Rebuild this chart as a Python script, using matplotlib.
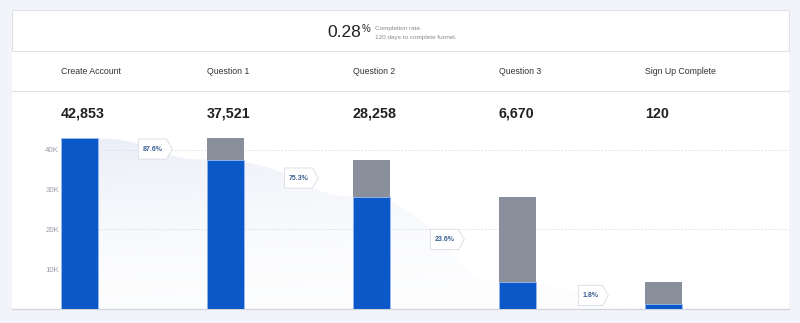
import numpy as np
import matplotlib
matplotlib.use('Agg')
import matplotlib.pyplot as plt
from matplotlib.path import Path
from matplotlib.patches import PathPatch, Rectangle
import matplotlib.transforms as mtransforms

plt.rcParams['font.family'] = ['Liberation Sans', 'DejaVu Sans']

# ---- data ----
steps = ['Create Account', 'Question 1', 'Question 2', 'Question 3', 'Sign Up Complete']
counts = np.array([42853, 37521, 28258, 6670, 120])
conv_pct = [87.6, 75.3, 23.6, 1.8]
completion_rate = 0.28
days_to_complete = 120
yticks = [10000, 20000, 30000, 40000]
grid_levels = [20000, 40000]

# colours
BG = '#f3f4fa'
BLUE = '#0b58c9'
GREY = '#8a8f9c'
LINE = '#dfe2e9'

W, H = 800, 323
fig = plt.figure(figsize=(W / 100, H / 100), dpi=100)
fig.patch.set_facecolor(BG)

# background axes in pixel coordinates for the panels
bg = fig.add_axes([0, 0, 1, 1])
bg.set_xlim(0, W)
bg.set_ylim(H, 0)
bg.axis('off')

# top summary box
bg.add_patch(Rectangle((12, 10), 777, 41, facecolor='white', edgecolor=LINE, lw=0.8))
# main panel
bg.add_patch(Rectangle((12, 51.5), 777, 257.5, facecolor='white', edgecolor='none'))
bg.plot([12, 789], [90.5, 90.5], color=LINE, lw=0.8)

bg.text(361, 32.5, f'{completion_rate:.2f}', fontsize=12.5, ha='right', va='center', color='#222222')
bg.text(362, 28.5, '%', fontsize=7, ha='left', va='center', color='#222222')
bg.text(375, 28.3, 'Completion rate.', fontsize=4.6, ha='left', va='center', color='#8a8a8a')
bg.text(375, 37.7, f'{days_to_complete} days to complete funnel.', fontsize=4.6,
        ha='left', va='center', color='#8a8a8a')

# ---- chart axes ----
zero_px, top_px = 309, 91
px_per_k = 3.98
ax = fig.add_axes([12 / W, (H - zero_px) / H, 777 / W, (zero_px - top_px) / H])
ax.set_facecolor('none')
x = np.arange(len(steps))
bw = 37 / 146
ax.set_xlim((12 - 79.5) / 146, (789 - 79.5) / 146)
ax.set_ylim(0, (zero_px - top_px) / px_per_k * 1000)
for s in ['top', 'right', 'left']:
    ax.spines[s].set_visible(False)
ax.spines['bottom'].set_color('#d3d6de')
ax.spines['bottom'].set_linewidth(1.0)
ax.set_xticks([])
ax.set_yticks(yticks)
ax.set_yticklabels([f'{v // 1000}K' for v in yticks])
ax.tick_params(axis='y', length=0, pad=-34, labelsize=5.7, labelcolor='#9a9ca6')
for lbl in ax.get_yticklabels():
    lbl.set_horizontalalignment('right')

ax.hlines(grid_levels, x[0] - bw / 2, ax.get_xlim()[1], colors='#d9dce3',
          linestyles=(0, (2, 2)), lw=0.6, zorder=1)

# smooth drop-off shape between bars, filled with a soft gradient
verts = [(x[0] + bw / 2, 0), (x[0] + bw / 2, counts[0])]
codes = [Path.MOVETO, Path.LINETO]
for i in range(len(counts) - 1):
    x0, x1 = x[i] + bw / 2, x[i + 1] - bw / 2
    xm = (x0 + x1) / 2
    verts += [(xm, counts[i]), (xm, counts[i + 1]), (x1, counts[i + 1])]
    codes += [Path.CURVE4] * 3
verts += [(x[-1] - bw / 2, 0), (x[0] + bw / 2, 0)]
codes += [Path.LINETO, Path.CLOSEPOLY]
shape = PathPatch(Path(verts, codes), facecolor='none', edgecolor='none')
ax.add_patch(shape)
gy = np.linspace(0, 1, 200)[:, None]
gx = np.linspace(0, 1, 200)[None, :]
alpha = (0.08 + 0.62 * gy ** 1.6) * (1 - 0.5 * gx)
rgba = np.zeros((200, 200, 4))
rgba[..., :3] = matplotlib.colors.to_rgb('#e2e7f4')
rgba[..., 3] = alpha
im = ax.imshow(rgba, extent=(x[0], x[-1], 0, counts[0]), origin='lower',
               aspect='auto', zorder=0.5, interpolation='bilinear')
im.set_clip_path(shape)

# bars: grey = previous step, blue = this step
prev = counts[:-1]
ax.bar(x[1:], prev, width=bw, color=GREY, zorder=2)
min_visible = 1250  # keep very small steps visible, as the original does
shown = np.maximum(counts, min_visible)
ax.bar(x, shown, width=bw, color=BLUE, edgecolor='#9bbcf0', lw=0.6, zorder=3)


# pentagon label box pointing right
def tag_box(x0, y0, width, height, mutation_size):
    padx, pady = 0.6 * mutation_size, 0.95 * mutation_size
    x0, y0 = x0 - padx, y0 - pady
    width, height = width + 2 * padx, height + 2 * pady
    tip = height * 0.28
    return Path([(x0, y0), (x0 + width, y0), (x0 + width + tip, y0 + height / 2),
                 (x0 + width, y0 + height), (x0, y0 + height), (x0, y0)],
                [Path.MOVETO] + [Path.LINETO] * 4 + [Path.CLOSEPOLY])


for i, p in enumerate(conv_pct):
    xm = (x[i] + x[i + 1]) / 2
    ym = (counts[i] + counts[i + 1]) / 2
    ax.text(xm, ym, f'{p}%', fontsize=5, fontweight='bold', color='#3a5f92',
            ha='center', va='center', zorder=5,
            bbox=dict(boxstyle=tag_box, facecolor='white', edgecolor='#dde0e8', lw=0.7))

# header row: step names and counts aligned to the bar left edges
tr = mtransforms.blended_transform_factory(ax.transData, bg.transData)
for i, (name, c) in enumerate(zip(steps, counts)):
    ax.text(x[i] - bw / 2, 71.5, name, transform=tr, fontsize=6.3, color='#333333',
            ha='left', va='center', clip_on=False)
    ax.text(x[i] - bw / 2, 114, f'{c:,}', transform=tr, fontsize=10.3, fontweight='bold',
            color='#222222', ha='left', va='center', clip_on=False)

fig.savefig('out.png', dpi=100, facecolor=fig.get_facecolor())
